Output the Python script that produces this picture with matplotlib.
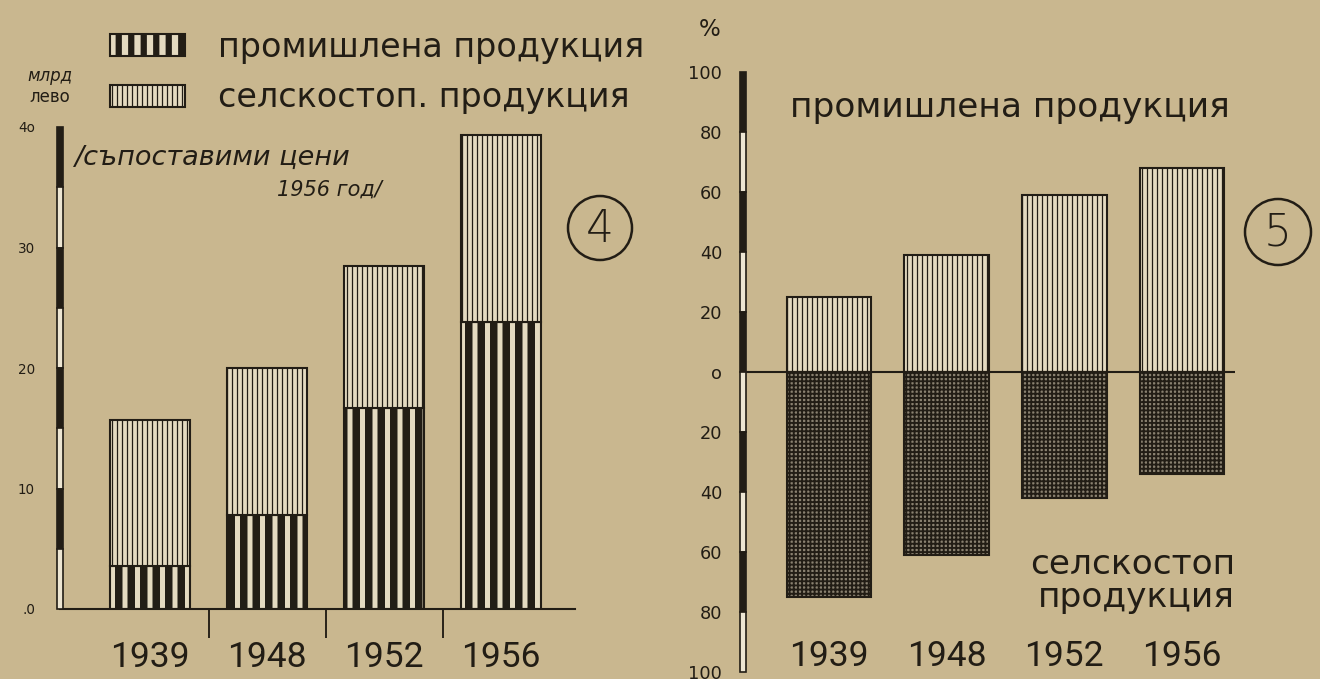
import matplotlib
matplotlib.use('Agg')
import matplotlib.pyplot as plt
import matplotlib.transforms as mtransforms
from matplotlib.patches import Rectangle, Ellipse, Patch
import numpy as np

# data
years = ['1939', '1948', '1952', '1956']
industry_bn = [3.6, 7.8, 16.7, 23.8]       # млрд лева
agri_bn = [12.1, 12.2, 11.8, 15.5]
industry_pct = [25, 39, 59, 68]            # %
agri_pct = [75, 61, 42, 34]

left_ticks = [0, 10, 20, 30, 40]
left_ticklabels = ['.0', '10', '20', '30', '4o']
right_ticks = [-100, -80, -60, -40, -20, 0, 20, 40, 60, 80, 100]

paper = '#C9B78F'
ink = '#221d15'
light = '#E4DAC0'

plt.rcParams['font.family'] = ['DejaVu Sans']
year_font = ['Roboto', 'DejaVu Sans']

W, H, DPI = 1320, 679, 150
PT = DPI / 72.0
fig = plt.figure(figsize=(W / DPI, H / DPI), dpi=DPI, facecolor=paper)


def fig_box(x0, x1, y_top, y_bot):
    return [x0 / W, 1 - y_bot / H, (x1 - x0) / W, (y_bot - y_top) / H]


def set_hlw(patches, lw):
    for p in patches:
        if hasattr(p, 'set_hatch_linewidth'):
            p.set_hatch_linewidth(lw)


def hatched_bars(ax, x, h, bottom, width, hatch, lw, face=light):
    with plt.rc_context({'hatch.linewidth': lw, 'hatch.color': ink}):
        bars = ax.bar(x, h, width=width, bottom=bottom, color=face,
                      edgecolor=ink, linewidth=1.0, hatch=hatch, zorder=2)
    set_hlw(bars, lw)
    return bars


def scale_bar(ax, lo, hi, step, xw):
    # hand-drawn style axis: alternating black / white segments
    trans = mtransforms.blended_transform_factory(ax.transAxes, ax.transData)
    edges = np.arange(hi, lo - 1e-9, -step)
    for i in range(len(edges) - 1):
        top, bot = edges[i], edges[i + 1]
        ax.add_patch(Rectangle((-xw / 2, bot), xw, top - bot, transform=trans,
                               facecolor=ink if i % 2 == 0 else '#EDE6D2',
                               edgecolor=ink, linewidth=0.8, clip_on=False, zorder=3))


def circled(cx, cy, r, label):
    fig.patches.append(Ellipse((cx / W, 1 - cy / H), 2 * r / W, 2 * r / H,
                               transform=fig.transFigure, facecolor='none',
                               edgecolor=ink, linewidth=1.2))
    fig.text(cx / W, 1 - (cy + 1) / H, label, fontsize=21, color=ink,
             ha='center', va='center', fontweight='light')


# ---------------- chart 4 ----------------
ax1 = fig.add_axes(fig_box(60, 575, 127, 609))
ax1.set_facecolor('none')
x = np.arange(len(years))
hatched_bars(ax1, x, industry_bn, 0, 0.68, '||', 3.6)
hatched_bars(ax1, x, agri_bn, industry_bn, 0.68, '|||||', 0.6)
ax1.set_xlim(-0.77, 3.63)
ax1.set_ylim(0, 40)
for s in ['top', 'right', 'left']:
    ax1.spines[s].set_visible(False)
ax1.spines['bottom'].set_color(ink)
ax1.spines['bottom'].set_linewidth(1.0)
ax1.set_xticks(x)
ax1.set_xticklabels(years, fontsize=17, color=ink, family=year_font)
ax1.tick_params(axis='x', length=0, pad=32 / PT)
ax1.set_xticks([0.5, 1.5, 2.5], minor=True)
ax1.tick_params(axis='x', which='minor', length=14, width=0.9, color=ink, direction='out')
ax1.set_yticks(left_ticks)
ax1.set_yticklabels(left_ticklabels, fontsize=6.5, color=ink)
ax1.tick_params(axis='y', length=0, pad=12)
scale_bar(ax1, 0, 40, 5, xw=0.012)

fig.text(50 / W, 1 - 76 / H, 'млрд', fontsize=8, style='italic', color=ink,
         ha='center', va='center')
fig.text(50 / W, 1 - 97 / H, 'лево', fontsize=8, color=ink, ha='center', va='center')
fig.text(75 / W, 1 - 158 / H, '/съпоставими цени', fontsize=13,
         style='italic', color=ink, ha='left', va='center')
fig.text(382 / W, 1 - 190 / H, '1956 год/', fontsize=10,
         style='italic', color=ink, ha='right', va='center')

circled(600, 228, 32, '4')

# legend
with plt.rc_context({'hatch.color': ink}):
    h1 = Patch(facecolor=light, edgecolor=ink, hatch='||', linewidth=1.0)
    h2 = Patch(facecolor=light, edgecolor=ink, hatch='|||||', linewidth=1.0)
leg_fs = 16
leg = fig.legend([h1, h2], ['промишлена продукция', 'селскостоп. продукция'],
                 loc='upper left', bbox_to_anchor=(110 / W, 1 - 31 / H),
                 frameon=False, fontsize=leg_fs, handlelength=2.25, handleheight=0.63,
                 handletextpad=1.0, labelspacing=0.52, borderpad=0, borderaxespad=0,
                 labelcolor=ink)
lp = leg.get_patches()
set_hlw(lp[:1], 3.0)
set_hlw(lp[1:], 0.6)

# ---------------- chart 5 ----------------
ax2 = fig.add_axes(fig_box(743, 1235, 72, 672))
ax2.set_facecolor('none')
hatched_bars(ax2, x, industry_pct, 0, 0.72, '|||||', 0.6)
neg = [-v for v in agri_pct]
hatched_bars(ax2, x, neg, 0, 0.72, '++++++', 0.9, face='#8a8170')
ax2.axhline(0, color=ink, linewidth=1.0, zorder=3)
ax2.set_xlim(-0.73, 3.45)
ax2.set_ylim(-100, 100)
for s in ax2.spines.values():
    s.set_visible(False)
ax2.set_xticks(x)
ax2.set_xticklabels(years, fontsize=17, color=ink, family=year_font)
ax2.tick_params(axis='x', length=0, pad=-32 / PT)
ax2.set_yticks(right_ticks)
ax2.set_yticklabels([str(abs(t)) if t else 'o' for t in right_ticks], fontsize=8.5, color=ink)
ax2.tick_params(axis='y', length=0, pad=10)
scale_bar(ax2, -100, 100, 20, xw=0.011)

fig.text(710 / W, 1 - 30 / H, '%', fontsize=11, color=ink, ha='center', va='center')
fig.text(790 / W, 1 - 108 / H, 'промишлена продукция', fontsize=16.5,
         color=ink, ha='left', va='center')
fig.text(1235 / W, 1 - 565 / H, 'селскостоп', fontsize=16.5,
         color=ink, ha='right', va='center')
fig.text(1235 / W, 1 - 598 / H, 'продукция', fontsize=16.5,
         color=ink, ha='right', va='center')

circled(1278, 232, 33, '5')

fig.savefig('out.png', dpi=DPI, facecolor=paper)
